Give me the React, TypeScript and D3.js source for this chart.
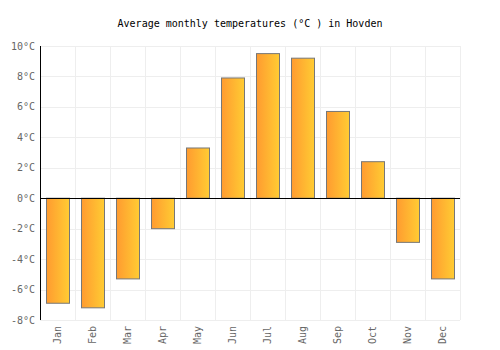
import React, { useEffect, useRef } from "react";
import * as d3 from "d3";

const months = ["Jan", "Feb", "Mar", "Apr", "May", "Jun", "Jul", "Aug", "Sep", "Oct", "Nov", "Dec"];
const temps = [-6.9, -7.2, -5.3, -2.0, 3.3, 7.9, 9.5, 9.2, 5.7, 2.4, -2.9, -5.3];
const yTicks = [-8, -6, -4, -2, 0, 2, 4, 6, 8, 10];

const width = 500;
const height = 350;

const App: React.FC = () => {
  const svgRef = useRef<SVGSVGElement>(null);

  useEffect(() => {
    if (!svgRef.current) return;
    const svg = d3.select(svgRef.current);
    svg.selectAll("*").remove();

    const margin = { top: 46, right: 40, bottom: 30, left: 40 };
    const innerWidth = width - margin.left - margin.right;
    const innerHeight = height - margin.top - margin.bottom;
    const font = "'DejaVu Sans Mono', monospace";

    const defs = svg.append("defs");
    const grad = defs.append("linearGradient")
      .attr("id", "barGrad")
      .attr("x1", "0%").attr("x2", "100%")
      .attr("y1", "0%").attr("y2", "0%");
    grad.append("stop").attr("offset", "0%").attr("stop-color", "#ff9b30");
    grad.append("stop").attr("offset", "100%").attr("stop-color", "#ffcc33");

    const g = svg.append("g")
      .attr("transform", `translate(${margin.left},${margin.top})`);

    const x = d3.scaleBand<string>()
      .domain(months)
      .range([0, innerWidth])
      .paddingInner(0.33)
      .paddingOuter(0.165);

    const y = d3.scaleLinear()
      .domain([-8, 10])
      .range([innerHeight, 0]);

    // horizontal grid
    g.append("g")
      .selectAll("line")
      .data(yTicks)
      .join("line")
      .attr("x1", 0)
      .attr("x2", innerWidth)
      .attr("y1", d => Math.round(y(d)) + 0.5)
      .attr("y2", d => Math.round(y(d)) + 0.5)
      .attr("stroke", "#eeeeee")
      .attr("stroke-width", 1);

    // vertical grid at band edges
    const step = x.step();
    g.append("g")
      .selectAll("line")
      .data(d3.range(1, months.length + 1))
      .join("line")
      .attr("x1", i => Math.round(i * step) + 0.5)
      .attr("x2", i => Math.round(i * step) + 0.5)
      .attr("y1", 0)
      .attr("y2", innerHeight)
      .attr("stroke", "#eeeeee")
      .attr("stroke-width", 1);

    // bars
    g.append("g")
      .selectAll("rect")
      .data(temps)
      .join("rect")
      .attr("x", (_, i) => Math.round(x(months[i]) ?? 0) + 0.5)
      .attr("y", d => y(Math.max(0, d)))
      .attr("width", Math.round(x.bandwidth()))
      .attr("height", d => Math.abs(y(d) - y(0)))
      .attr("fill", "url(#barGrad)")
      .attr("stroke", "#777777")
      .attr("stroke-width", 1);

    // zero line
    g.append("line")
      .attr("x1", 0)
      .attr("x2", innerWidth)
      .attr("y1", Math.round(y(0)) + 0.5)
      .attr("y2", Math.round(y(0)) + 0.5)
      .attr("stroke", "#000")
      .attr("stroke-width", 1);

    // left axis line
    g.append("line")
      .attr("x1", 0.5)
      .attr("x2", 0.5)
      .attr("y1", 0)
      .attr("y2", innerHeight)
      .attr("stroke", "#000")
      .attr("stroke-width", 1);

    // y tick labels
    g.append("g")
      .selectAll("text")
      .data(yTicks)
      .join("text")
      .attr("x", -5)
      .attr("y", d => y(d))
      .attr("dy", "0.35em")
      .attr("text-anchor", "end")
      .attr("fill", "#666")
      .style("font-family", font)
      .style("font-size", "10px")
      .text(d => `${d}°C`);

    // x tick labels
    g.append("g")
      .selectAll("text")
      .data(months)
      .join("text")
      .attr("transform", d => `translate(${(x(d) ?? 0) + x.bandwidth() / 2},${innerHeight + 6}) rotate(-90)`)
      .attr("text-anchor", "end")
      .attr("dy", "0.35em")
      .attr("fill", "#666")
      .style("font-family", font)
      .style("font-size", "10px")
      .text(d => d);

    svg.append("text")
      .attr("x", width / 2)
      .attr("y", 27)
      .attr("text-anchor", "middle")
      .attr("fill", "#000")
      .style("font-family", font)
      .style("font-size", "10px")
      .text("Average monthly temperatures (°C ) in Hovden");
  }, []);

  return (
    <svg
      ref={svgRef}
      width={width}
      height={height}
      style={{ position: "absolute", left: 0, top: 0, display: "block", background: "#fff" }}
    />
  );
};

export default App;
